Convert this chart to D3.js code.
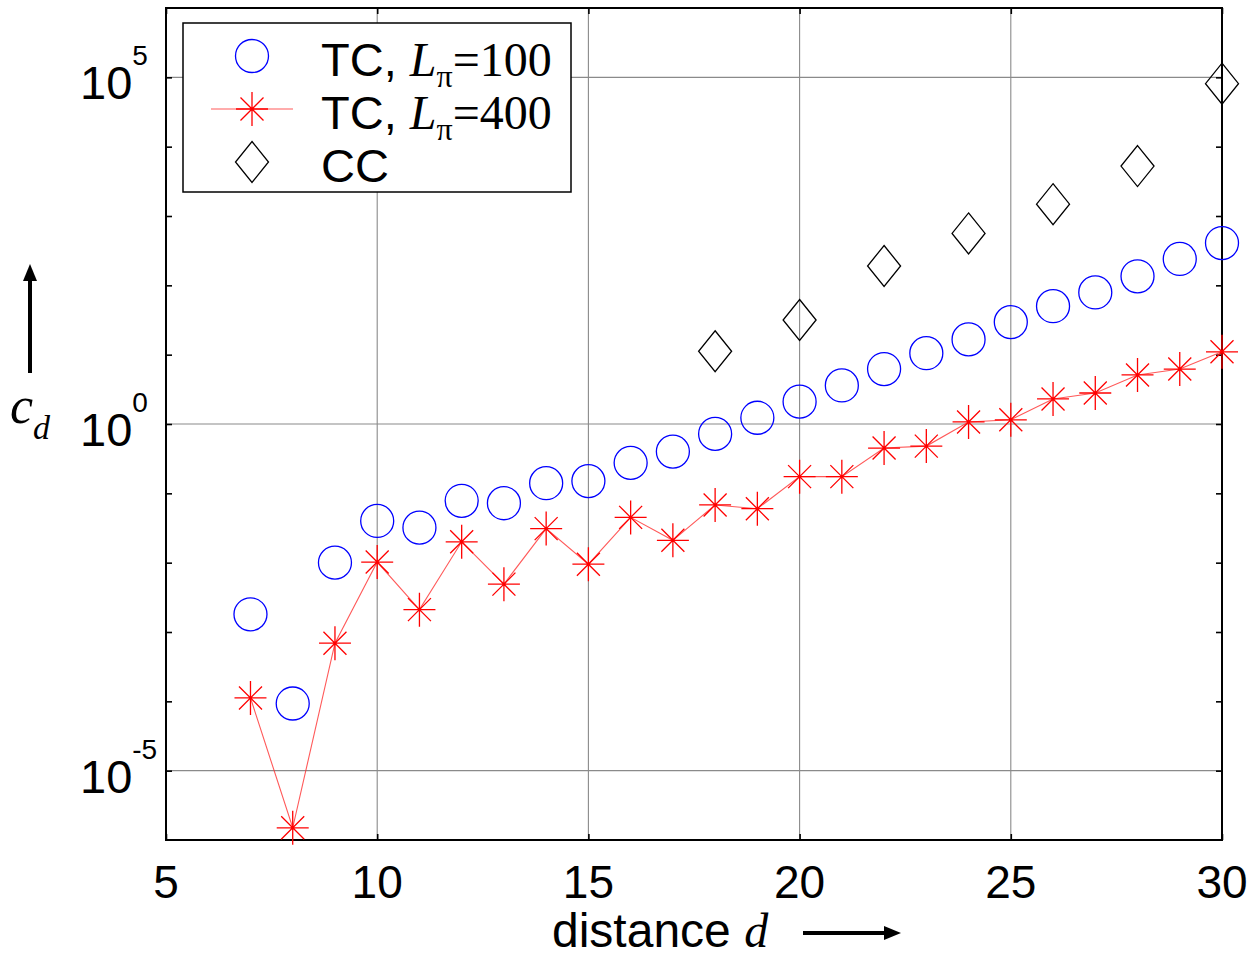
<!DOCTYPE html>
<html>
<head>
<meta charset="utf-8">
<script src="https://cdn.jsdelivr.net/npm/d3@7"></script>
<style>
  html, body { margin: 0; padding: 0; background: #fff; }
  svg { display: block; }
</style>
</head>
<body>
<svg id="chart" width="1249" height="956"></svg>
<script>
// Distances at which the TC curves were evaluated
const distTC = [7, 8, 9, 10, 11, 12, 13, 14, 15, 16, 17, 18, 19, 20, 21, 22, 23, 24, 25, 26, 27, 28, 29, 30];
// TC, L_pi = 100 (blue circles)
const tc100 = [1.8e-3, 9.3e-5, 1.0e-2, 4.0e-2, 3.2e-2, 7.8e-2, 7.2e-2, 0.14, 0.15, 0.275, 0.40, 0.72,
               1.23, 2.1, 3.6, 6.2, 10.5, 16.6, 29.5, 50, 79, 135, 240, 407];
// TC, L_pi = 400 (red asterisks joined by a line)
const tc400 = [1.12e-4, 1.5e-6, 6.9e-4, 1.02e-2, 2.1e-3, 2.0e-2, 4.9e-3, 3.1e-2, 9.5e-3, 4.5e-2, 2.1e-2, 6.8e-2,
               6.0e-2, 0.174, 0.174, 0.45, 0.48, 1.07, 1.15, 2.3, 2.8, 5.1, 6.2, 11];
// CC (black diamonds), even distances only
const distCC = [18, 20, 22, 24, 26, 28, 30];
const cc = [11.2, 31.6, 190, 560, 1480, 5250, 81000];

// Axis ticks and labels
const xTicks = [5, 10, 15, 20, 25, 30];
const xGrid = [10, 15, 20, 25];
const yDecades = [1e-5, 1e-4, 1e-3, 1e-2, 1e-1, 1e0, 1e1, 1e2, 1e3, 1e4, 1e5];
const yLabelExps = [-5, 0, 5];

// Legend entries: sans prefix, italic symbol, subscript, serif suffix
const legendPrefix = ["TC, ", "TC, ", "CC"];
const legendSymbol = ["L", "L", ""];
const legendSub = ["\u03c0", "\u03c0", ""];
const legendSuffix = ["=100", "=400", ""];
const legendMarker = ["circle", "star", "diamond"];

const SANS = "'Liberation Sans', Arial, Helvetica, sans-serif";
const SERIF = "'Liberation Serif', 'Times New Roman', Times, serif";

const plot = { left: 166, right: 1222, top: 8, bottom: 840 };
const svg = d3.select("#chart");
svg.append("rect").attr("width", 1249).attr("height", 956).attr("fill", "#fff");

const x = d3.scaleLinear().domain([5, 30]).range([plot.left, plot.right]);
const y = d3.scaleLog().domain([1e-6, 1e6]).range([plot.bottom, plot.top]);

// Grid lines
const grid = svg.append("g").attr("stroke", "#8a8a8a").attr("stroke-width", 1.1);
grid.selectAll("line.gx").data(xGrid).join("line")
  .attr("x1", d => x(d)).attr("x2", d => x(d))
  .attr("y1", plot.top).attr("y2", plot.bottom);
grid.selectAll("line.gy").data(yLabelExps).join("line")
  .attr("x1", plot.left).attr("x2", plot.right)
  .attr("y1", d => y(Math.pow(10, d))).attr("y2", d => y(Math.pow(10, d)));

// Inward ticks on all four sides
function styleAxis(g) {
  g.select(".domain").remove();
  g.selectAll(".tick line").attr("stroke", "#000").attr("stroke-width", 1.6);
  g.selectAll(".tick text").remove();
}
svg.append("g").attr("transform", `translate(0,${plot.bottom})`)
  .call(d3.axisBottom(x).tickValues(xTicks).tickSizeInner(-6).tickSizeOuter(0)).call(styleAxis);
svg.append("g").attr("transform", `translate(0,${plot.top})`)
  .call(d3.axisTop(x).tickValues(xTicks).tickSizeInner(-6).tickSizeOuter(0)).call(styleAxis);
svg.append("g").attr("transform", `translate(${plot.left},0)`)
  .call(d3.axisLeft(y).tickValues(yDecades).tickSizeInner(-6).tickSizeOuter(0)).call(styleAxis);
svg.append("g").attr("transform", `translate(${plot.right},0)`)
  .call(d3.axisRight(y).tickValues(yDecades).tickSizeInner(-6).tickSizeOuter(0)).call(styleAxis);

// Frame
svg.append("rect")
  .attr("x", plot.left).attr("y", plot.top)
  .attr("width", plot.right - plot.left).attr("height", plot.bottom - plot.top)
  .attr("fill", "none").attr("stroke", "#000").attr("stroke-width", 2);

// X tick labels
svg.append("g").selectAll("text").data(xTicks).join("text")
  .attr("x", d => x(d)).attr("y", 898)
  .attr("text-anchor", "middle")
  .attr("font-family", SANS).attr("font-size", 46)
  .text(d => d);

// Y tick labels: 10 with superscript exponent
const yl = svg.append("g").selectAll("text").data(yLabelExps).join("text")
  .attr("x", 80).attr("y", d => y(Math.pow(10, d)) + 22)
  .attr("font-family", SANS).attr("font-size", 47);
yl.append("tspan").text("10");
yl.append("tspan").attr("dy", -34).attr("font-size", 28).text(d => d);

// Marker shapes
const starPath = "M-16,0H16M0,-17V17M-11.5,-11.5L11.5,11.5M-11.5,11.5L11.5,-11.5";
const diamondPath = "M0,-20.5L16.5,0L0,20.5L-16.5,0Z";

// TC, L=400: connecting line
const tc400Pts = distTC.map((d, i) => [d, tc400[i]]);
svg.append("path")
  .datum(tc400Pts)
  .attr("fill", "none").attr("stroke", "#ff3030").attr("stroke-opacity", 0.8).attr("stroke-width", 1.1)
  .attr("d", d3.line().x(d => x(d[0])).y(d => y(d[1])));

// TC, L=100 circles
svg.append("g").selectAll("circle").data(distTC.map((d, i) => [d, tc100[i]])).join("circle")
  .attr("cx", d => x(d[0])).attr("cy", d => y(d[1])).attr("r", 16.5)
  .attr("fill", "none").attr("stroke", "#0000ff").attr("stroke-width", 1.3);

// TC, L=400 asterisks
svg.append("g").selectAll("path").data(tc400Pts).join("path")
  .attr("transform", d => `translate(${x(d[0])},${y(d[1])})`)
  .attr("d", starPath)
  .attr("fill", "none").attr("stroke", "#ff0000").attr("stroke-width", 1.3);

// CC diamonds
svg.append("g").selectAll("path").data(distCC.map((d, i) => [d, cc[i]])).join("path")
  .attr("transform", d => `translate(${x(d[0])},${y(d[1])})`)
  .attr("d", diamondPath)
  .attr("fill", "none").attr("stroke", "#000").attr("stroke-width", 1.3);

// Legend
const legend = svg.append("g");
legend.append("rect")
  .attr("x", 183).attr("y", 23).attr("width", 388).attr("height", 169)
  .attr("fill", "#fff").attr("stroke", "#000").attr("stroke-width", 1.5);
legendMarker.forEach((m, i) => {
  const cy = 56 + i * 53;
  if (m === "circle") {
    legend.append("circle").attr("cx", 252).attr("cy", cy).attr("r", 16.5)
      .attr("fill", "none").attr("stroke", "#0000ff").attr("stroke-width", 1.3);
  } else if (m === "star") {
    legend.append("line").attr("x1", 211).attr("x2", 293).attr("y1", cy).attr("y2", cy)
      .attr("stroke", "#ff3030").attr("stroke-opacity", 0.8).attr("stroke-width", 1.1);
    legend.append("path").attr("transform", `translate(252,${cy})`).attr("d", starPath)
      .attr("fill", "none").attr("stroke", "#ff0000").attr("stroke-width", 1.3);
  } else {
    legend.append("path").attr("transform", `translate(252,${cy})`).attr("d", diamondPath)
      .attr("fill", "none").attr("stroke", "#000").attr("stroke-width", 1.3);
  }
  const t = legend.append("text").attr("x", 321).attr("y", cy + 20).attr("font-size", 47);
  t.append("tspan").attr("font-family", SANS).text(legendPrefix[i]);
  if (legendSymbol[i]) {
    t.append("tspan").attr("font-family", SERIF).attr("font-style", "italic").attr("font-size", 48).text(legendSymbol[i]);
    t.append("tspan").attr("font-family", SERIF).attr("font-size", 32).attr("dy", 11).text(legendSub[i]);
    t.append("tspan").attr("font-family", SERIF).attr("font-size", 48).attr("dy", -11).text(legendSuffix[i]);
  }
});

// Y axis title: upward arrow and c_d
svg.append("line").attr("x1", 30).attr("x2", 30).attr("y1", 373).attr("y2", 276)
  .attr("stroke", "#000").attr("stroke-width", 4);
svg.append("path").attr("d", "M30,264L37,281L23,281Z").attr("fill", "#000");
const yt = svg.append("text").attr("x", 10).attr("y", 423)
  .attr("font-family", SERIF).attr("font-style", "italic").attr("font-size", 52);
yt.append("tspan").text("c");
yt.append("tspan").attr("font-size", 34).attr("dy", 16).text("d");

// X axis title: "distance d" and rightward arrow
const xt = svg.append("text").attr("x", 552).attr("y", 947).attr("font-size", 48);
xt.append("tspan").attr("font-family", SANS).text("distance ");
xt.append("tspan").attr("font-family", SERIF).attr("font-style", "italic").text("d");
svg.append("line").attr("x1", 803).attr("x2", 886).attr("y1", 933).attr("y2", 933)
  .attr("stroke", "#000").attr("stroke-width", 4);
svg.append("path").attr("d", "M901,933L884,926L884,940Z").attr("fill", "#000");
</script>
</body>
</html>
